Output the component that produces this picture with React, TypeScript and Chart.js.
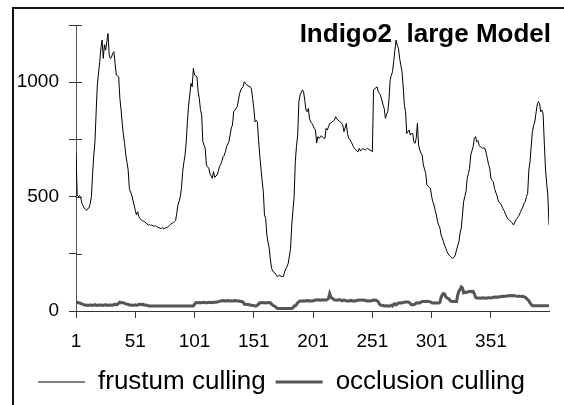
import React, { useEffect, useRef } from 'react';
import { Chart, registerables } from 'chart.js';

Chart.register(...registerables);

const FONT = "'Liberation Sans', Arial, Helvetica, sans-serif";

const TITLE = 'Indigo2  large Model';
const SERIES_NAMES = ['frustum culling', 'occlusion culling'];
const X_TICKS = [1, 51, 101, 151, 201, 251, 301, 351];
const Y_TICKS = [0, 250, 500, 750, 1000, 1250];
const Y_LABELED = [0, 500, 1000];

const frustum = [
  690, 507, 500, 505, 495, 470, 460, 450, 444, 440,
  448, 451, 470, 500, 600, 682, 740, 870, 988, 1040,
  1089, 1150, 1184, 1104, 1164, 1140, 1177, 1213, 1119, 1104,
  1110, 1126, 1133, 1080, 1031, 1028, 1024, 929, 880, 820,
  770, 733, 682, 650, 616, 536, 520, 507, 485, 463,
  440, 420, 434, 412, 405, 398, 395, 392, 390, 385,
  380, 376, 378, 374, 376, 372, 370, 373, 369, 366,
  364, 362, 360, 365, 358, 362, 364, 366, 369, 375,
  380, 383, 386, 390, 395, 427, 463, 480, 500, 540,
  609, 650, 682, 740, 830, 900, 944, 995, 980, 1060,
  1031, 1028, 1024, 960, 929, 880, 856, 740, 725, 711,
  638, 630, 624, 600, 590, 580, 609, 584, 590, 594,
  610, 631, 640, 653, 674, 680, 696, 718, 730, 740,
  769, 800, 813, 871, 878, 885, 893, 922, 950, 966,
  975, 980, 1002, 995, 988, 985, 982, 980, 970, 929,
  885, 827, 834, 827, 747, 680, 624, 570, 521, 420,
  405, 332, 300, 274, 223, 186, 175, 168, 165, 158,
  150, 155, 157, 150, 152, 150, 172, 185, 195, 208,
  240, 274, 376, 440, 500, 653, 720, 769, 915, 944,
  955, 966, 958, 920, 878, 871, 885, 840, 827, 820,
  810, 798, 791, 734, 762, 755, 758, 766, 760, 755,
  755, 798, 791, 805, 820, 822, 827, 830, 834, 849,
  840, 834, 830, 827, 820, 813, 784, 800, 820, 776,
  755, 750, 740, 730, 718, 710, 704, 700, 696, 711,
  699, 705, 711, 706, 704, 708, 711, 706, 704, 700,
  696, 966, 973, 975, 980, 958, 951, 940, 922, 900,
  885, 842, 860, 871, 922, 1010, 1030, 1046, 1090, 1140,
  1184, 1162, 1148, 1104, 1075, 1046, 980, 900, 871, 776,
  784, 791, 769, 776, 776, 740, 733, 755, 820, 725,
  704, 690, 682, 638, 620, 602, 551, 545, 540, 536,
  500, 478, 463, 440, 420, 390, 375, 362, 332, 318,
  303, 285, 274, 259, 250, 242, 238, 233, 230, 235,
  245, 267, 285, 303, 340, 362, 420, 478, 500, 522,
  580, 600, 624, 682, 700, 718, 755, 762, 740, 745,
  725, 718, 715, 711, 712, 711, 690, 667, 640, 624,
  580, 570, 565, 536, 520, 507, 485, 475, 471, 460,
  449, 440, 427, 415, 405, 400, 395, 390, 385, 376,
  385, 398, 405, 412, 420, 434, 445, 456, 470, 478,
  500, 514, 616, 653, 720, 784, 810, 827, 864, 900,
  915, 907, 871, 878, 864, 740, 624, 560, 507, 376,
];

const occlusion = [
  36, 38, 36, 35, 33, 30, 29, 27, 25, 26,
  24, 25, 27, 25, 24, 26, 28, 25, 24, 26,
  25, 27, 24, 25, 26, 28, 25, 24, 27, 25,
  26, 25, 28, 30, 27, 29, 34, 38, 36, 36,
  36, 33, 32, 29, 29, 27, 25, 26, 25, 25,
  27, 25, 26, 29, 28, 29, 27, 29, 26, 25,
  25, 23, 22, 22, 22, 22, 22, 22, 22, 22,
  22, 22, 22, 22, 22, 22, 22, 22, 22, 22,
  22, 22, 22, 22, 22, 22, 22, 22, 22, 22,
  22, 22, 22, 22, 22, 22, 22, 22, 22, 22,
  30, 36, 36, 36, 37, 36, 36, 37, 38, 36,
  36, 37, 38, 37, 36, 38, 37, 38, 38, 39,
  41, 42, 44, 44, 46, 44, 45, 44, 46, 44,
  44, 45, 44, 44, 46, 44, 45, 44, 43, 41,
  41, 38, 29, 29, 28, 29, 27, 26, 25, 24,
  24, 22, 22, 25, 30, 36, 36, 37, 36, 36,
  35, 36, 37, 36, 36, 30, 25, 22, 20, 15,
  11, 11, 11, 11, 11, 11, 11, 11, 11, 11,
  11, 11, 11, 14, 22, 22, 28, 36, 41, 44,
  44, 43, 45, 44, 44, 46, 44, 45, 44, 44,
  45, 46, 48, 48, 49, 48, 47, 48, 49, 48,
  48, 48, 50, 55, 76, 60, 57, 52, 48, 48,
  47, 48, 50, 48, 46, 45, 48, 46, 44, 44,
  45, 44, 46, 44, 44, 45, 44, 46, 48, 47,
  48, 48, 47, 48, 46, 44, 45, 44, 44, 45,
  46, 48, 47, 48, 44, 40, 30, 25, 25, 24,
  22, 22, 23, 22, 22, 22, 25, 22, 30, 32,
  27, 30, 35, 35, 36, 35, 37, 38, 39, 39,
  39, 38, 33, 27, 27, 28, 30, 35, 35, 36,
  35, 38, 42, 42, 42, 43, 42, 42, 41, 40,
  36, 35, 35, 36, 35, 35, 35, 38, 60, 71,
  76, 74, 62, 57, 55, 50, 44, 42, 42, 42,
  43, 42, 70, 86, 95, 105, 100, 80, 82, 80,
  83, 84, 85, 86, 84, 86, 76, 60, 57, 57,
  57, 56, 57, 58, 57, 57, 56, 57, 58, 58,
  57, 58, 60, 61, 60, 61, 60, 62, 62, 64,
  63, 64, 64, 64, 66, 68, 67, 68, 66, 68,
  67, 65, 64, 64, 65, 64, 63, 64, 62, 60,
  55, 50, 45, 35, 28, 23, 23, 23, 23, 23,
  23, 23, 23, 23, 23, 23, 23, 23, 23, 23,
];

const extrasPlugin = {
  id: 'extras',
  afterDraw(chart: any) {
    const { ctx, chartArea, scales } = chart;
    const y = scales.y;
    ctx.save();
    ctx.strokeStyle = '#333';
    ctx.lineWidth = 1;
    ctx.beginPath();
    for (const v of Y_TICKS) {
      const py = Math.round(y.getPixelForValue(v)) + 0.5;
      ctx.moveTo(chartArea.left, py);
      ctx.lineTo(chartArea.left + 6, py);
    }
    ctx.stroke();
    ctx.font = `bold 26px ${FONT}`;
    ctx.fillStyle = '#000';
    ctx.textAlign = 'right';
    ctx.textBaseline = 'alphabetic';
    ctx.fillText(TITLE, chartArea.right + 2, chartArea.top + 17);
    ctx.restore();
  },
};

export default function App() {
  const ref = useRef<HTMLCanvasElement>(null);

  useEffect(() => {
    if (!ref.current) return;
    const chart = new Chart(ref.current, {
      type: 'line',
      data: {
        datasets: [
          {
            label: SERIES_NAMES[0],
            data: frustum.map((v, i) => ({ x: i + 1, y: v })),
            borderColor: '#000',
            backgroundColor: '#000',
            borderWidth: 1,
            pointRadius: 0,
            tension: 0,
          },
          {
            label: SERIES_NAMES[1],
            data: occlusion.map((v, i) => ({ x: i + 1, y: v })),
            borderColor: '#555',
            backgroundColor: '#555',
            borderWidth: 3,
            pointRadius: 0,
            tension: 0,
          },
        ],
      },
      options: {
        responsive: false,
        animation: false,
        devicePixelRatio: 1,
        layout: { padding: { top: 16, right: 4, left: 0, bottom: 0 } },
        plugins: {
          tooltip: { enabled: false },
          title: { display: false },
          legend: {
            position: 'bottom',
            labels: {
              usePointStyle: true,
              pointStyle: 'line',
              pointStyleWidth: 47,
              color: '#000',
              padding: 10,
              font: { family: FONT, size: 26 },
            },
          },
        },
        scales: {
          x: {
            type: 'linear',
            min: 1,
            max: 400,
            afterBuildTicks: (s: any) => {
              s.ticks = X_TICKS.map((v) => ({ value: v }));
            },
            afterFit: (s: any) => {
              s.height = 48;
              s.paddingLeft = 0;
              s.paddingRight = 0;
            },
            ticks: {
              autoSkip: false,
              maxRotation: 0,
              padding: 12,
              color: '#000',
              font: { family: FONT, size: 19 },
              callback: (v: any) => String(v),
            },
            grid: { drawOnChartArea: false, tickLength: 7, color: '#333' },
            border: { color: '#333', width: 1 },
          },
          y: {
            type: 'linear',
            min: 0,
            max: 1250,
            afterBuildTicks: (s: any) => {
              s.ticks = Y_TICKS.map((v) => ({ value: v }));
            },
            afterFit: (s: any) => {
              s.width = 62;
              s.paddingTop = 0;
              s.paddingBottom = 0;
            },
            ticks: {
              padding: 10,
              color: '#000',
              font: { family: FONT, size: 19 },
              callback: (v: any) => (Y_LABELED.includes(Number(v)) ? String(v) : ''),
            },
            grid: { drawOnChartArea: false, tickLength: 7, color: '#333' },
            border: { color: '#555', width: 1 },
          },
        },
      },
      plugins: [extrasPlugin],
    });
    return () => chart.destroy();
  }, []);

  return (
    <div
      style={{
        position: 'fixed',
        left: 0,
        top: 0,
        width: 564,
        height: 405,
        overflow: 'hidden',
        background: '#fff',
      }}
    >
      <div
        style={{
          position: 'absolute',
          left: 12,
          top: 7,
          width: 600,
          height: 450,
          borderLeft: '2px solid #111',
          borderTop: '2px solid #111',
        }}
      />
      <canvas
        ref={ref}
        width={539}
        height={396}
        style={{ position: 'absolute', left: 14, top: 9, width: 539, height: 396 }}
      />
    </div>
  );
}
